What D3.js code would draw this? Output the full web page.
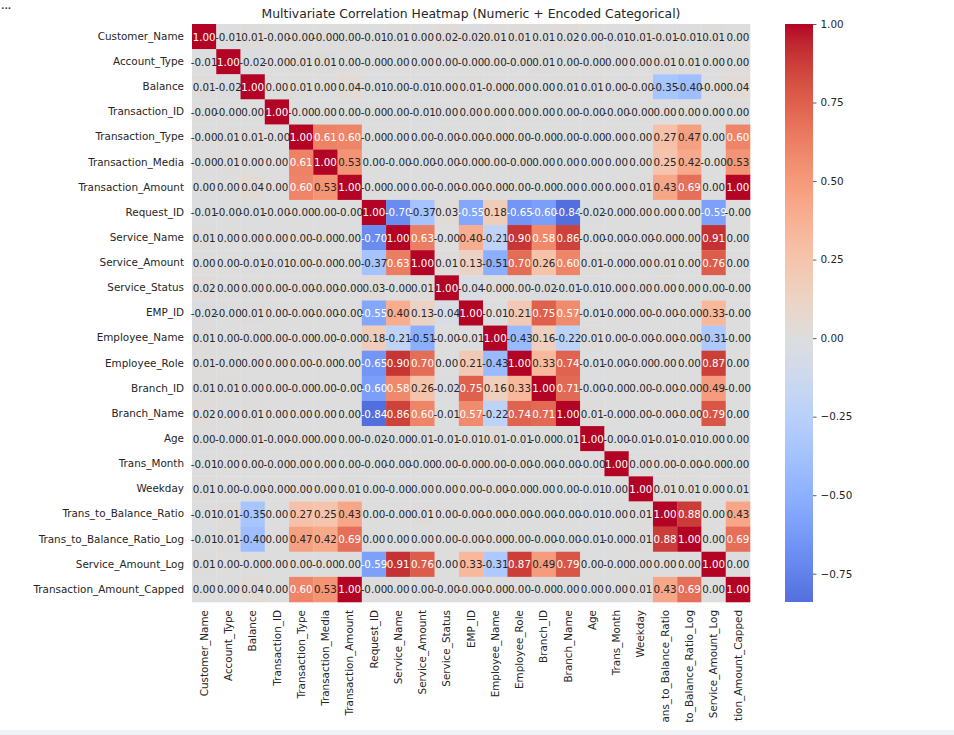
<!DOCTYPE html>
<html>
<head>
<meta charset="utf-8">
<script src="https://cdn.jsdelivr.net/npm/d3@7"></script>
<style>
  body { margin: 0; background: #fff; }
  svg text { font-family: "DejaVu Sans", sans-serif; }
</style>
</head>
<body>
<svg class="heatmap" width="954" height="735"></svg>
<script>
const titleText = 'Multivariate Correlation Heatmap (Numeric + Encoded Categorical)';

const variables = [
    'Customer_Name', 'Account_Type', 'Balance', 'Transaction_ID', 'Transaction_Type',
    'Transaction_Media', 'Transaction_Amount', 'Request_ID', 'Service_Name', 'Service_Amount',
    'Service_Status', 'EMP_ID', 'Employee_Name', 'Employee_Role', 'Branch_ID', 'Branch_Name',
    'Age', 'Trans_Month', 'Weekday', 'Trans_to_Balance_Ratio', 'Trans_to_Balance_Ratio_Log',
    'Service_Amount_Log', 'Transaction_Amount_Capped'
];

// one row per variable, same order as above (-0.00 kept as negative zero)
const corrRows = [
    [1.00, -0.01, 0.01, -0.00, -0.00, -0.00, 0.00, -0.01, 0.01, 0.00, 0.02, -0.02, 0.01, 0.01, 0.01, 0.02, 0.00, -0.01, 0.01, -0.01, -0.01, 0.01, 0.00],
    [-0.01, 1.00, -0.02, -0.00, 0.01, 0.01, 0.00, -0.00, 0.00, 0.00, 0.00, -0.00, 0.00, -0.00, 0.01, 0.00, -0.00, 0.00, 0.00, 0.01, 0.01, 0.00, 0.00],
    [0.01, -0.02, 1.00, 0.00, 0.01, 0.00, 0.04, -0.01, 0.00, -0.01, 0.00, 0.01, -0.00, 0.00, 0.00, 0.01, 0.01, 0.00, -0.00, -0.35, -0.40, -0.00, 0.04],
    [-0.00, -0.00, 0.00, 1.00, -0.00, 0.00, 0.00, -0.00, 0.00, -0.01, 0.00, 0.00, 0.00, 0.00, 0.00, 0.00, -0.00, -0.00, -0.00, 0.00, 0.00, 0.00, 0.00],
    [-0.00, 0.01, 0.01, -0.00, 1.00, 0.61, 0.60, -0.00, 0.00, 0.00, -0.00, -0.00, -0.00, 0.00, -0.00, 0.00, -0.00, 0.00, 0.00, 0.27, 0.47, 0.00, 0.60],
    [-0.00, 0.01, 0.00, 0.00, 0.61, 1.00, 0.53, 0.00, -0.00, -0.00, -0.00, -0.00, 0.00, -0.00, 0.00, 0.00, 0.00, 0.00, 0.00, 0.25, 0.42, -0.00, 0.53],
    [0.00, 0.00, 0.04, 0.00, 0.60, 0.53, 1.00, -0.00, 0.00, 0.00, -0.00, -0.00, -0.00, 0.00, -0.00, 0.00, 0.00, 0.00, 0.01, 0.43, 0.69, 0.00, 1.00],
    [-0.01, -0.00, -0.01, -0.00, -0.00, 0.00, -0.00, 1.00, -0.70, -0.37, 0.03, -0.55, 0.18, -0.65, -0.60, -0.84, -0.02, -0.00, 0.00, 0.00, 0.00, -0.59, -0.00],
    [0.01, 0.00, 0.00, 0.00, 0.00, -0.00, 0.00, -0.70, 1.00, 0.63, -0.00, 0.40, -0.21, 0.90, 0.58, 0.86, -0.00, -0.00, -0.00, -0.00, 0.00, 0.91, 0.00],
    [0.00, 0.00, -0.01, -0.01, 0.00, -0.00, 0.00, -0.37, 0.63, 1.00, 0.01, 0.13, -0.51, 0.70, 0.26, 0.60, 0.01, -0.00, 0.00, 0.01, 0.00, 0.76, 0.00],
    [0.02, 0.00, 0.00, 0.00, -0.00, -0.00, -0.00, 0.03, -0.00, 0.01, 1.00, -0.04, -0.00, 0.00, -0.02, -0.01, -0.01, 0.00, 0.00, 0.00, 0.00, 0.00, -0.00],
    [-0.02, -0.00, 0.01, 0.00, -0.00, -0.00, -0.00, -0.55, 0.40, 0.13, -0.04, 1.00, -0.01, 0.21, 0.75, 0.57, -0.01, -0.00, 0.00, -0.00, -0.00, 0.33, -0.00],
    [0.01, 0.00, -0.00, 0.00, -0.00, 0.00, -0.00, 0.18, -0.21, -0.51, -0.00, -0.01, 1.00, -0.43, 0.16, -0.22, 0.01, 0.00, -0.00, -0.00, -0.00, -0.31, -0.00],
    [0.01, -0.00, 0.00, 0.00, 0.00, -0.00, 0.00, -0.65, 0.90, 0.70, 0.00, 0.21, -0.43, 1.00, 0.33, 0.74, -0.01, -0.00, -0.00, 0.00, 0.00, 0.87, 0.00],
    [0.01, 0.01, 0.00, 0.00, -0.00, 0.00, -0.00, -0.60, 0.58, 0.26, -0.02, 0.75, 0.16, 0.33, 1.00, 0.71, -0.00, -0.00, 0.00, -0.00, -0.00, 0.49, -0.00],
    [0.02, 0.00, 0.01, 0.00, 0.00, 0.00, 0.00, -0.84, 0.86, 0.60, -0.01, 0.57, -0.22, 0.74, 0.71, 1.00, 0.01, -0.00, 0.00, -0.00, -0.00, 0.79, 0.00],
    [0.00, -0.00, 0.01, -0.00, -0.00, 0.00, 0.00, -0.02, -0.00, 0.01, -0.01, -0.01, 0.01, -0.01, -0.00, 0.01, 1.00, -0.00, -0.01, -0.01, -0.01, 0.00, 0.00],
    [-0.01, 0.00, 0.00, -0.00, 0.00, 0.00, 0.00, -0.00, -0.00, -0.00, 0.00, -0.00, 0.00, -0.00, -0.00, -0.00, -0.00, 1.00, 0.00, 0.00, -0.00, -0.00, 0.00],
    [0.01, 0.00, -0.00, -0.00, 0.00, 0.00, 0.01, 0.00, -0.00, 0.00, 0.00, 0.00, -0.00, -0.00, 0.00, 0.00, -0.01, 0.00, 1.00, 0.01, 0.01, 0.00, 0.01],
    [-0.01, 0.01, -0.35, 0.00, 0.27, 0.25, 0.43, 0.00, -0.00, 0.01, 0.00, -0.00, -0.00, -0.00, -0.00, -0.00, -0.01, 0.00, 0.01, 1.00, 0.88, 0.00, 0.43],
    [-0.01, 0.01, -0.40, 0.00, 0.47, 0.42, 0.69, 0.00, 0.00, 0.00, 0.00, -0.00, -0.00, 0.00, -0.00, -0.00, -0.01, -0.00, 0.01, 0.88, 1.00, 0.00, 0.69],
    [0.01, 0.00, -0.00, 0.00, 0.00, -0.00, 0.00, -0.59, 0.91, 0.76, 0.00, 0.33, -0.31, 0.87, 0.49, 0.79, 0.00, -0.00, 0.00, 0.00, 0.00, 1.00, 0.00],
    [0.00, 0.00, 0.04, 0.00, 0.60, 0.53, 1.00, -0.00, 0.00, 0.00, -0.00, -0.00, -0.00, 0.00, -0.00, 0.00, 0.00, 0.00, 0.01, 0.43, 0.69, 0.00, 1.00]
];

const cbarTicks = [1.00, 0.75, 0.50, 0.25, 0.00, -0.25, -0.50, -0.75];

// coolwarm anchors (Moreland), evenly spaced 0..1
const coolwarm = [
    '#3b4cc0', '#445acc', '#4d68d7', '#5775e1', '#6282ea', '#6c8ef1', '#779af7', '#82a5fb',
    '#8db0fe', '#98b9ff', '#a3c2ff', '#aec9fd', '#b8d0f9', '#c2d5f4', '#ccd9ee', '#d5dbe6',
    '#dddddd', '#e5d8d1', '#ecd3c5', '#f1ccb8', '#f5c4ac', '#f7bb9f', '#f7b193', '#f7a686',
    '#f49a7b', '#f18d6f', '#ec7f63', '#e57058', '#de604d', '#d55042', '#cb3e38', '#c0282f',
    '#b40426'
];

class Heatmap {

    constructor() {
        this.svg = d3.select('.heatmap');
        this.grid = {left: 192, right: 750, top: 24, bottom: 602};
        this.cbar = {left: 785, right: 813};

        let flat = corrRows.flat();
        this.vmin = d3.min(flat);
        this.vmax = d3.max(flat);

        // colormap centred on 0 (seaborn center=0): symmetric range round the centre
        let vrange = Math.max(this.vmax, -this.vmin);
        let t = d3.scaleLinear().domain([-vrange, vrange]).range([0, 1]);
        let cw = d3.scaleLinear()
            .domain(coolwarm.map((c, i) => i / (coolwarm.length - 1)))
            .range(coolwarm)
            .interpolate(d3.interpolateRgb);
        this.color = v => cw(t(v));

        this.draw();
    }

    fmt(v) {
        return ((v < 0 || Object.is(v, -0)) ? '-' : '') + Math.abs(v).toFixed(2);
    }

    // seaborn picks text colour from the cell luminance
    textColor(c) {
        let rgb = d3.rgb(c);
        let lin = [rgb.r, rgb.g, rgb.b].map(x => {
            x = x / 255;
            return x <= 0.03928 ? x / 12.92 : Math.pow((x + 0.055) / 1.055, 2.4);
        });
        let lum = 0.2126 * lin[0] + 0.7152 * lin[1] + 0.0722 * lin[2];
        return lum > 0.408 ? '#262626' : '#ffffff';
    }

    draw() {
        let svg = this.svg;
        let g = this.grid;

        let defs = svg.append('defs');
        defs.append('clipPath').attr('id', 'page')
            .append('rect').attr('x', 0).attr('y', 0).attr('width', 954).attr('height', 722);

        let root = svg.append('g').attr('clip-path', 'url(#page)');

        let xScale = d3.scaleBand().domain(variables).range([g.left, g.right]);
        let yScale = d3.scaleBand().domain(variables).range([g.top, g.bottom]);

        let cells = [];
        corrRows.forEach((row, i) => row.forEach((v, j) => cells.push({row: variables[i], col: variables[j], v: v})));

        root.append('g').attr('id', 'cells')
            .selectAll('rect')
            .data(cells)
            .join('rect')
            .attr('x', d => xScale(d.col))
            .attr('y', d => yScale(d.row))
            .attr('width', xScale.bandwidth() + 0.3)
            .attr('height', yScale.bandwidth() + 0.3)
            .attr('fill', d => this.color(d.v));

        root.append('g').attr('id', 'annot')
            .selectAll('text')
            .data(cells)
            .join('text')
            .attr('x', d => xScale(d.col) + xScale.bandwidth() / 2)
            .attr('y', d => yScale(d.row) + yScale.bandwidth() / 2)
            .attr('text-anchor', 'middle')
            .attr('dominant-baseline', 'central')
            .attr('font-size', '10.3px')
            .attr('fill', d => this.textColor(this.color(d.v)))
            .text(d => this.fmt(d.v));

        // y axis labels
        let yAxis = root.append('g')
            .attr('transform', `translate(${g.left},0)`)
            .call(d3.axisLeft(yScale).tickSize(0).tickPadding(8));
        yAxis.select('.domain').remove();
        yAxis.selectAll('text').attr('font-size', '10.4px').attr('fill', '#262626');

        // x axis labels, rotated; the long ones run off the bottom like the original
        let xAxis = root.append('g')
            .attr('transform', `translate(0,${g.bottom})`)
            .call(d3.axisBottom(xScale).tickSize(0));
        xAxis.select('.domain').remove();
        xAxis.selectAll('text')
            .attr('font-size', '10.4px')
            .attr('fill', '#262626')
            .attr('transform', 'rotate(-90)')
            .attr('text-anchor', 'end')
            .attr('x', -8)
            .attr('y', 0)
            .attr('dy', '0.35em');

        root.append('text')
            .attr('x', (g.left + g.right) / 2)
            .attr('y', 18)
            .attr('text-anchor', 'middle')
            .attr('font-size', '12.4px')
            .attr('fill', '#262626')
            .text(titleText);

        this.drawColorbar(root, defs);

        root.append('text')
            .attr('x', 1).attr('y', 9)
            .attr('font-size', '9px')
            .attr('font-weight', 'bold')
            .attr('fill', '#444')
            .text('...');

        svg.append('rect')
            .attr('x', 0).attr('y', 730).attr('width', 954).attr('height', 5)
            .attr('fill', '#eef2f6');
    }

    drawColorbar(root, defs) {
        let g = this.grid;
        let c = this.cbar;
        let cScale = d3.scaleLinear().domain([this.vmin, this.vmax]).range([g.bottom, g.top]);

        let grad = defs.append('linearGradient')
            .attr('id', 'cbarGrad')
            .attr('x1', 0).attr('y1', 1).attr('x2', 0).attr('y2', 0);
        grad.selectAll('stop')
            .data(d3.range(0, 1.0001, 1 / 64))
            .join('stop')
            .attr('offset', d => d)
            .attr('stop-color', d => this.color(this.vmin + d * (this.vmax - this.vmin)));

        root.append('rect')
            .attr('x', c.left)
            .attr('y', g.top)
            .attr('width', c.right - c.left)
            .attr('height', g.bottom - g.top)
            .attr('fill', 'url(#cbarGrad)');

        let axis = root.append('g')
            .attr('transform', `translate(${c.right},0)`)
            .call(d3.axisRight(cScale)
                .tickValues(cbarTicks)
                .tickFormat(d3.format('.2f'))
                .tickSize(3.5)
                .tickPadding(4));
        axis.select('.domain').remove();
        axis.selectAll('line').attr('stroke', '#333').attr('stroke-width', 0.8);
        axis.selectAll('text').attr('font-size', '10.4px').attr('fill', '#262626');
    }
}

new Heatmap();
</script>
</body>
</html>
